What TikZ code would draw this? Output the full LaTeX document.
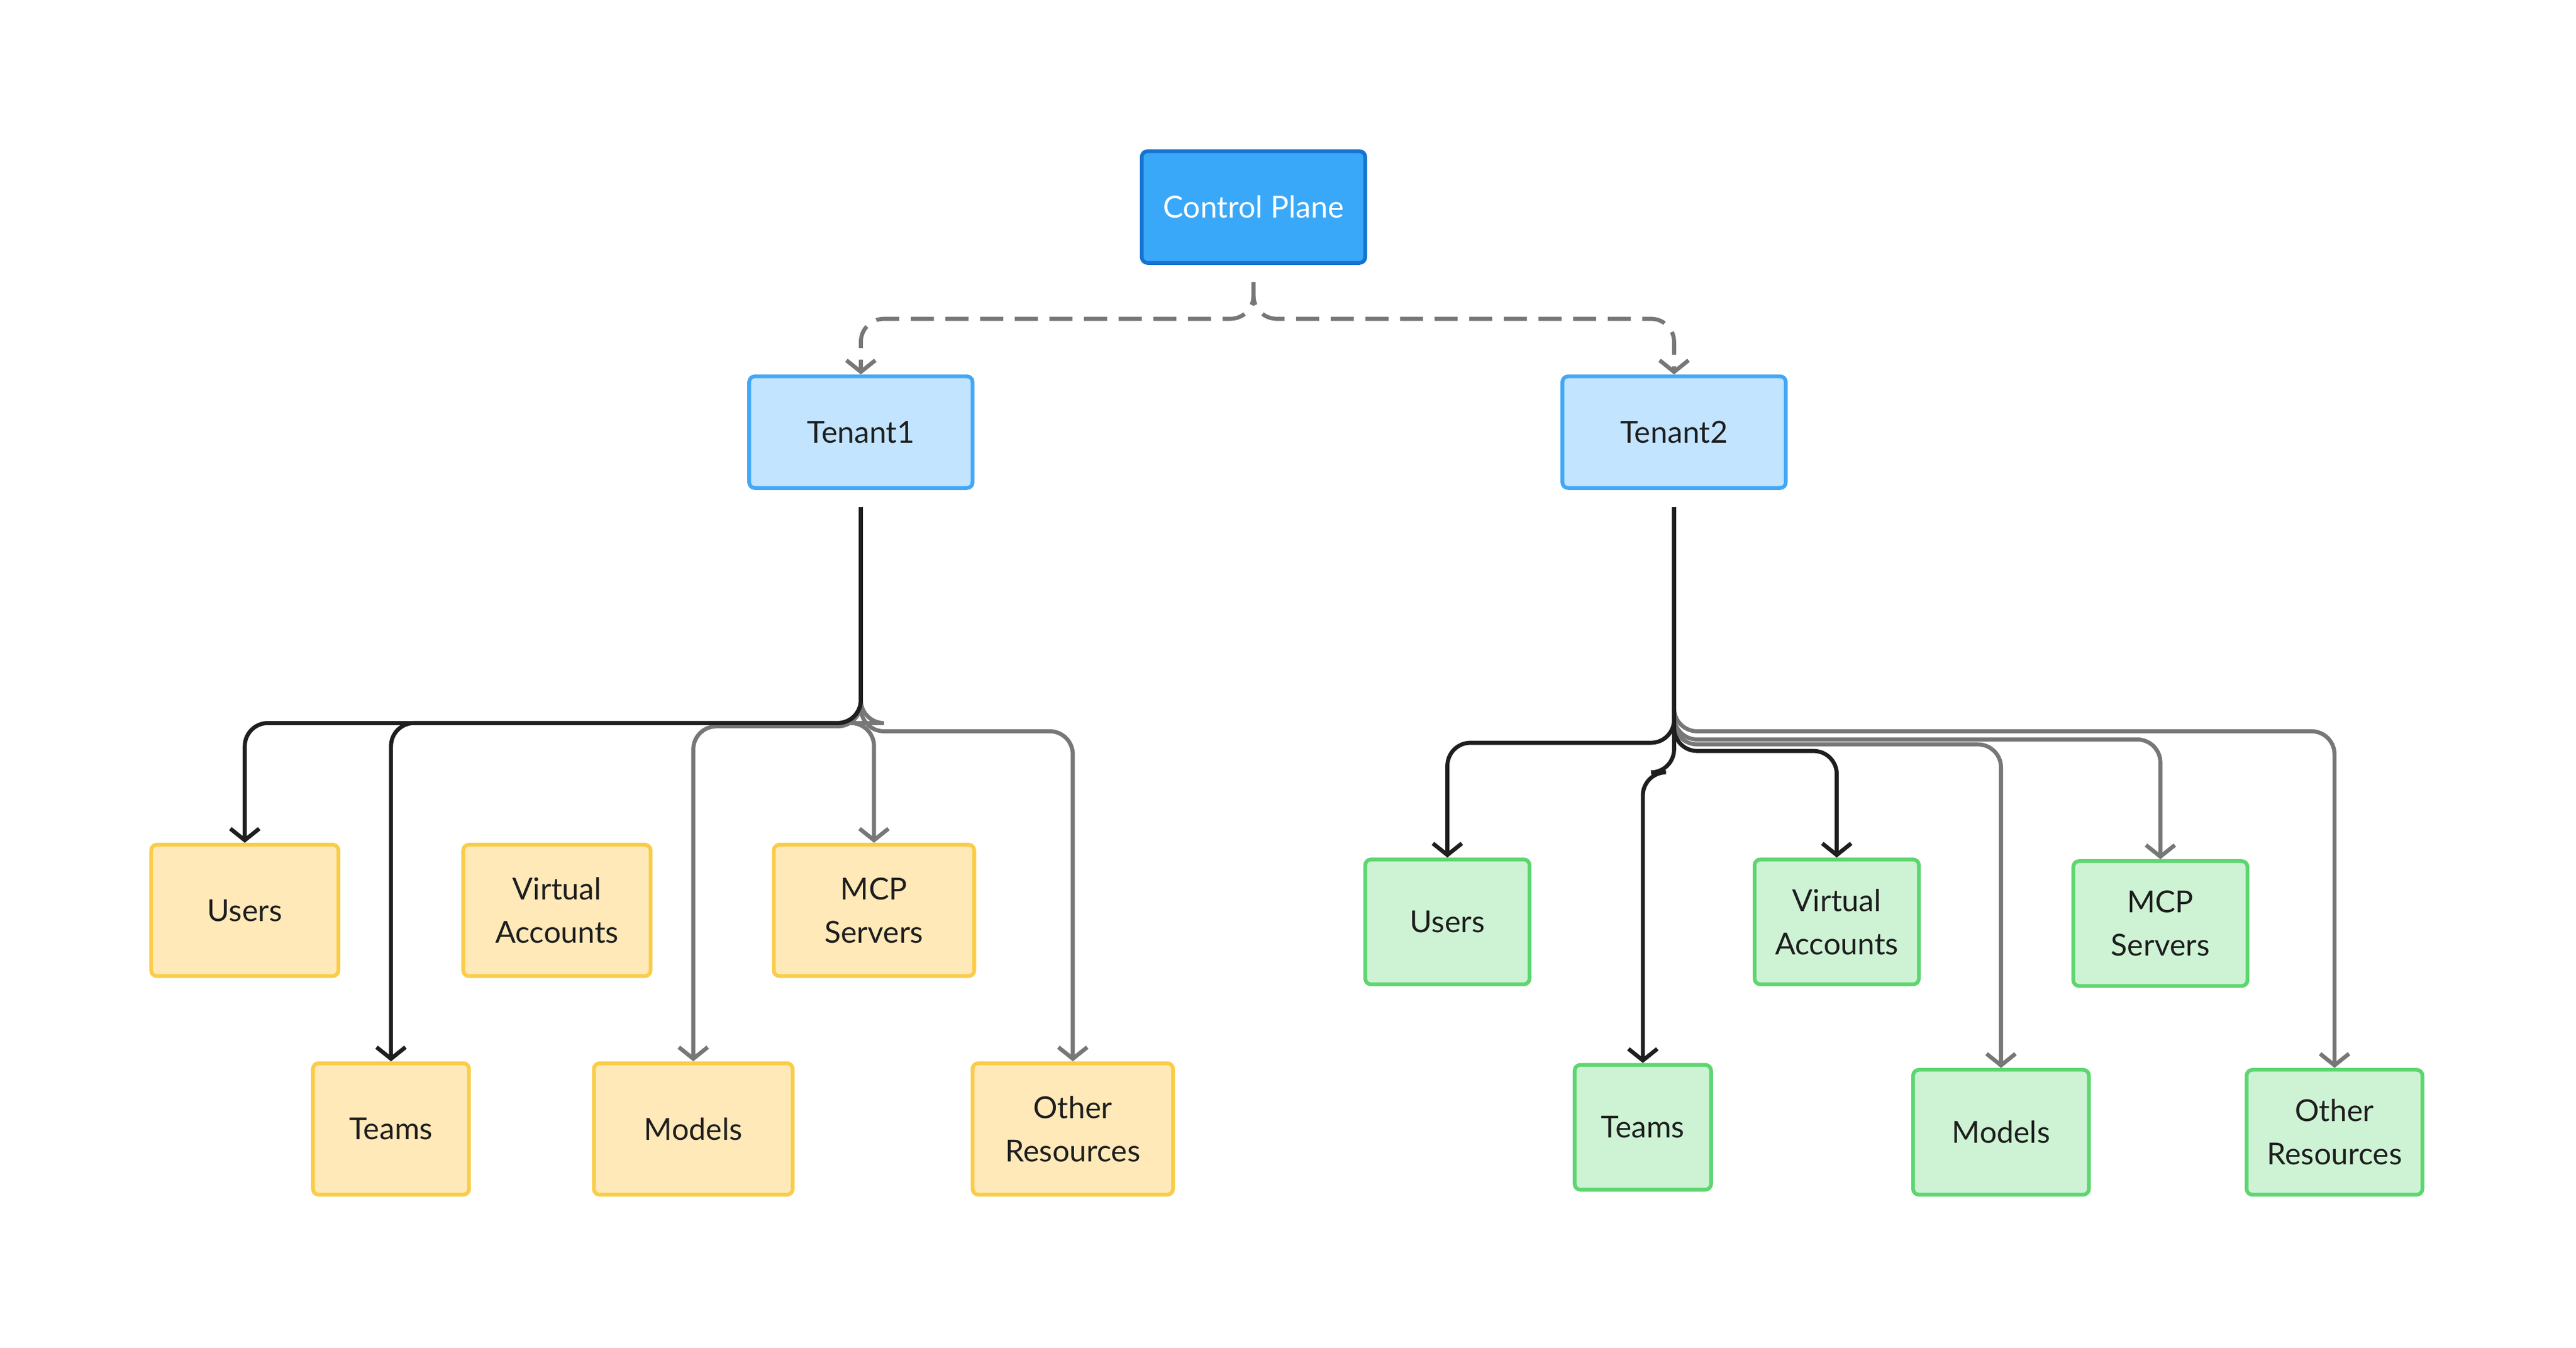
\documentclass[tikz,border=0pt]{standalone}
\usepackage{fontspec}
\setmainfont{Lato}
\usetikzlibrary{arrows.meta}
\definecolor{cpfill}{HTML}{3AA8F8}\definecolor{cpline}{HTML}{1673D0}
\definecolor{tnfill}{HTML}{C2E4FF}\definecolor{tnline}{HTML}{42A8F5}
\definecolor{ylfill}{HTML}{FFE9B8}\definecolor{ylline}{HTML}{FACC47}
\definecolor{grfill}{HTML}{CEF3D4}\definecolor{grline}{HTML}{5DD670}
\definecolor{lk}{HTML}{777777}\definecolor{dk}{HTML}{1E1E1E}
\tikzset{bx/.style = {rectangle, rounded corners=2pt, line width=1.3pt, align=center, font=\fontsize{10.5}{15}\selectfont, text=dk},
           cp/.style = {bx, fill=cpfill, draw=cpline, text=white, minimum width=136*0.02cm, minimum height=68*0.02cm},
           tn/.style = {bx, fill=tnfill, draw=tnline, minimum width=136*0.02cm, minimum height=68*0.02cm},
           yl/.style = {bx, fill=ylfill, draw=ylline, minimum height=80*0.02cm},
           gr/.style = {bx, fill=grfill, draw=grline, minimum height=76*0.02cm},
           ln/.style = {line width=1.4pt, rounded corners=8pt, shorten <=6pt, -{Straight Barb[length=4pt,width=10pt]}},
           gy/.style = {ln, draw=lk},
           bk/.style = {ln, draw=dk}}

\begin{document}
\begin{tikzpicture}[x=0.02cm, y=-0.02cm]
    \useasboundingbox (0,0) rectangle (1568,820);
    \node[cp] (cp) at (763,126) {Control Plane};
    \node[tn] (t1) at (524,263) {Tenant1};
    \node[tn] (t2) at (1019,263) {Tenant2};
    % tenant 1
    \node[yl, minimum width=114*0.02cm] (u1) at (149,554) {Users};
    \node[yl, minimum width=114*0.02cm] (v1) at (339,554) {Virtual\\Accounts};
    \node[yl, minimum width=122*0.02cm] (m1) at (532,554) {MCP\\Servers};
    \node[yl, minimum width=95*0.02cm]  (e1) at (238,687) {Teams};
    \node[yl, minimum width=121*0.02cm] (d1) at (422,687) {Models};
    \node[yl, minimum width=122*0.02cm] (o1) at (653,687) {Other\\Resources};
    % tenant 2
    \node[gr, minimum width=100*0.02cm] (u2) at (881,561) {Users};
    \node[gr, minimum width=100*0.02cm] (v2) at (1118,561) {Virtual\\Accounts};
    \node[gr, minimum width=106*0.02cm] (m2) at (1315,562) {MCP\\Servers};
    \node[gr, minimum width=83*0.02cm]  (e2) at (1000,686) {Teams};
    \node[gr, minimum width=107*0.02cm] (d2) at (1218,689) {Models};
    \node[gr, minimum width=107*0.02cm] (o2) at (1421,689) {Other\\Resources};
    % control plane
    \draw[gy, dashed, dash pattern=on 8pt off 4pt] (cp.south) -- (cp.south |- 0,194) -| (t1.north);
    \draw[gy, dashed, dash pattern=on 8pt off 4pt] (cp.south) -- (cp.south |- 0,194) -| (t2.north);
    % links
    \draw[gy] (t1.south) -- (t1.south |- 0,442) -| (d1.north);
    \draw[gy] (t1.south) -- (t1.south |- 0,440) -| (m1.north);
    \draw[gy] (t1.south) -- (t1.south |- 0,445) -| (o1.north);
    \draw[bk] (t1.south) -- (t1.south |- 0,440) -| (u1.north);
    \draw[bk] (t1.south) -- (t1.south |- 0,440) -| (e1.north);
    \draw[gy] (t2.south) -- (t2.south |- 0,453) -| (d2.north);
    \draw[gy] (t2.south) -- (t2.south |- 0,450) -| (m2.north);
    \draw[gy] (t2.south) -- (t2.south |- 0,445) -| (o2.north);
    \draw[bk] (t2.south) -- (t2.south |- 0,452) -| (u2.north);
    \draw[bk] (t2.south) -- (t2.south |- 0,470) -| (e2.north);
    \draw[bk] (t2.south) -- (t2.south |- 0,457) -| (v2.north);
\end{tikzpicture}
\end{document}
